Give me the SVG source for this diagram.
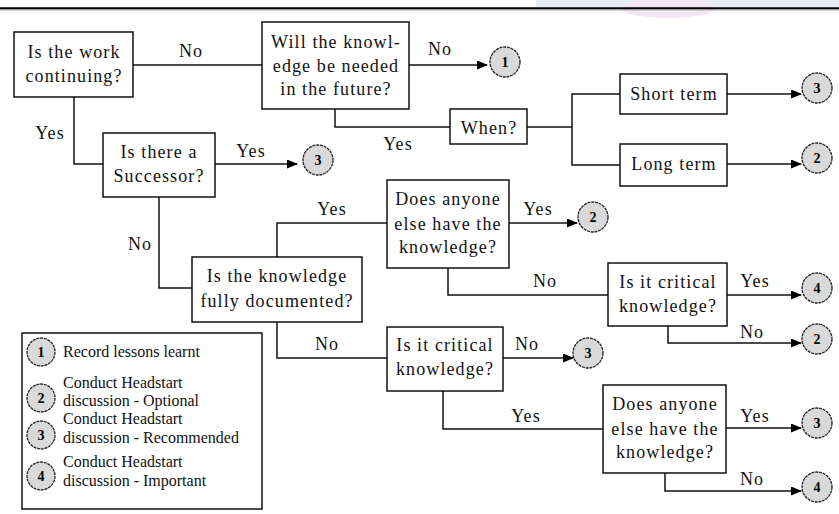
<svg xmlns="http://www.w3.org/2000/svg" width="839" height="514" viewBox="0 0 839 514">
<style>
.box{fill:#fff;stroke:#111;stroke-width:1.5}
.t{font-family:'Liberation Serif','Times New Roman','DejaVu Serif',serif;font-size:18px;letter-spacing:1.1px;fill:#111;text-anchor:middle}
.lt{font-family:'Liberation Serif','Times New Roman','DejaVu Serif',serif;font-size:16px;fill:#111}
.c{fill:#d9d9d9;stroke:#222;stroke-width:1.3;stroke-dasharray:3 0.8}
.n{font-family:'Liberation Serif','Times New Roman','DejaVu Serif',serif;font-size:14px;font-weight:bold;fill:#000;text-anchor:middle}
.ln{fill:none;stroke:#111;stroke-width:1.5}
.ar{marker-end:url(#ah)}
</style>
<defs>
<marker id="ah" markerUnits="userSpaceOnUse" markerWidth="11" markerHeight="9" refX="10" refY="4.5" orient="auto">
<path d="M0,0 L11,4.5 L0,9 z" fill="#000"/>
</marker>
</defs>
<rect x="0" y="0" width="839" height="514" fill="#fff"/>
<g id="topbar">
<rect x="536" y="0" width="303" height="7.5" fill="#e8ecf4"/>
<ellipse cx="668" cy="8" rx="48" ry="10" fill="#f4e7f4"/>
<line x1="0" y1="8.3" x2="839" y2="8.3" stroke="#000" stroke-width="2"/>
<line x1="0" y1="9.8" x2="839" y2="9.8" stroke="#888" stroke-width="1"/>
</g>
<g id="connectors">
<path class="ln" d="M133,65 H262"/>
<path class="ln ar" d="M409,65 H487"/>
<path class="ln" d="M74,97 V164 H103"/>
<path class="ln ar" d="M215,164 H297"/>
<path class="ln" d="M335,109 V127 H450"/>
<path class="ln" d="M527,127 H572"/>
<path class="ln" d="M620,94 H572 V165 H620"/>
<path class="ln ar" d="M727,94 H801"/>
<path class="ln ar" d="M727,164 H801"/>
<path class="ln" d="M159,197 V288 H192"/>
<path class="ln" d="M277,257 V223 H387"/>
<path class="ln ar" d="M509,223 H577"/>
<path class="ln" d="M448,268 V295 H608"/>
<path class="ln ar" d="M727,295 H801"/>
<path class="ln ar" d="M668,326 V343 H801"/>
<path class="ln" d="M277,322 V358 H387"/>
<path class="ln ar" d="M503,358 H573"/>
<path class="ln" d="M443,391 V429 H603"/>
<path class="ln ar" d="M726,428 H801"/>
<path class="ln ar" d="M665,473 V491 H801"/>
</g>
<g id="labels">
<text class="t" x="191" y="57">No</text>
<text class="t" x="50" y="139">Yes</text>
<text class="t" x="251" y="157">Yes</text>
<text class="t" x="440" y="55">No</text>
<text class="t" x="398" y="150">Yes</text>
<text class="t" x="140" y="250">No</text>
<text class="t" x="332" y="215">Yes</text>
<text class="t" x="327" y="350">No</text>
<text class="t" x="538" y="215">Yes</text>
<text class="t" x="545" y="287">No</text>
<text class="t" x="755" y="287">Yes</text>
<text class="t" x="752" y="338">No</text>
<text class="t" x="527" y="350">No</text>
<text class="t" x="526" y="422">Yes</text>
<text class="t" x="755" y="422">Yes</text>
<text class="t" x="752" y="485">No</text>
</g>
<g id="n-work">
<rect class="box" x="14" y="32" width="119" height="65"/>
<text class="t" x="74" y="58">Is the work</text>
<text class="t" x="74" y="82">continuing?</text>
</g>
<g id="n-future">
<rect class="box" x="262" y="22" width="147" height="87"/>
<text class="t" x="336" y="48">Will the knowl-</text>
<text class="t" x="336" y="72">edge be needed</text>
<text class="t" x="336" y="95">in the future?</text>
</g>
<g id="n-successor">
<rect class="box" x="103" y="133" width="112" height="64"/>
<text class="t" x="159" y="158">Is there a</text>
<text class="t" x="159" y="182">Successor?</text>
</g>
<g id="n-when">
<rect class="box" x="450" y="109" width="77" height="35"/>
<text class="t" x="489" y="134">When?</text>
</g>
<g id="n-short">
<rect class="box" x="620" y="74" width="107" height="40"/>
<text class="t" x="674" y="100">Short term</text>
</g>
<g id="n-long">
<rect class="box" x="620" y="144" width="107" height="42"/>
<text class="t" x="674" y="170">Long term</text>
</g>
<g id="n-documented">
<rect class="box" x="192" y="257" width="170" height="65"/>
<text class="t" x="277" y="282">Is the knowledge</text>
<text class="t" x="277" y="307">fully documented?</text>
</g>
<g id="n-anyone1">
<rect class="box" x="387" y="180" width="122" height="88"/>
<text class="t" x="448" y="205">Does anyone</text>
<text class="t" x="448" y="230">else have the</text>
<text class="t" x="448" y="253">knowledge?</text>
</g>
<g id="n-critical1">
<rect class="box" x="608" y="263" width="119" height="63"/>
<text class="t" x="668" y="288">Is it critical</text>
<text class="t" x="668" y="312">knowledge?</text>
</g>
<g id="n-critical2">
<rect class="box" x="387" y="327" width="116" height="64"/>
<text class="t" x="445" y="351">Is it critical</text>
<text class="t" x="445" y="375">knowledge?</text>
</g>
<g id="n-anyone2">
<rect class="box" x="603" y="385" width="123" height="88"/>
<text class="t" x="665" y="410">Does anyone</text>
<text class="t" x="665" y="435">else have the</text>
<text class="t" x="665" y="458">knowledge?</text>
</g>
<g id="o-1a"><circle class="c" cx="505" cy="62" r="15"/><text class="n" x="505" y="67">1</text></g>
<g id="o-3a"><circle class="c" cx="318" cy="160" r="15"/><text class="n" x="318" y="165">3</text></g>
<g id="o-3b"><circle class="c" cx="817" cy="88" r="15"/><text class="n" x="817" y="93">3</text></g>
<g id="o-2a"><circle class="c" cx="817" cy="158" r="15"/><text class="n" x="817" y="163">2</text></g>
<g id="o-2b"><circle class="c" cx="593" cy="217" r="15"/><text class="n" x="593" y="222">2</text></g>
<g id="o-4a"><circle class="c" cx="817" cy="288" r="15"/><text class="n" x="817" y="293">4</text></g>
<g id="o-2c"><circle class="c" cx="817" cy="339" r="15"/><text class="n" x="817" y="344">2</text></g>
<g id="o-3c"><circle class="c" cx="588" cy="353" r="15"/><text class="n" x="588" y="358">3</text></g>
<g id="o-3d"><circle class="c" cx="817" cy="423" r="15"/><text class="n" x="817" y="428">3</text></g>
<g id="o-4b"><circle class="c" cx="817" cy="487" r="15"/><text class="n" x="817" y="492">4</text></g>
<g id="legend">
<rect class="box" x="22" y="333" width="240" height="176"/>
<circle class="c" cx="41" cy="352" r="14"/><text class="n" x="41" y="357">1</text>
<text class="lt" x="63" y="357">Record lessons learnt</text>
<circle class="c" cx="41" cy="398" r="14"/><text class="n" x="41" y="403">2</text>
<text class="lt" x="63" y="388">Conduct Headstart</text>
<text class="lt" x="63" y="406">discussion - Optional</text>
<circle class="c" cx="41" cy="435" r="14"/><text class="n" x="41" y="440">3</text>
<text class="lt" x="63" y="424">Conduct Headstart</text>
<text class="lt" x="63" y="443">discussion - Recommended</text>
<circle class="c" cx="41" cy="476" r="14"/><text class="n" x="41" y="481">4</text>
<text class="lt" x="63" y="467">Conduct Headstart</text>
<text class="lt" x="63" y="486">discussion - Important</text>
</g>
</svg>
